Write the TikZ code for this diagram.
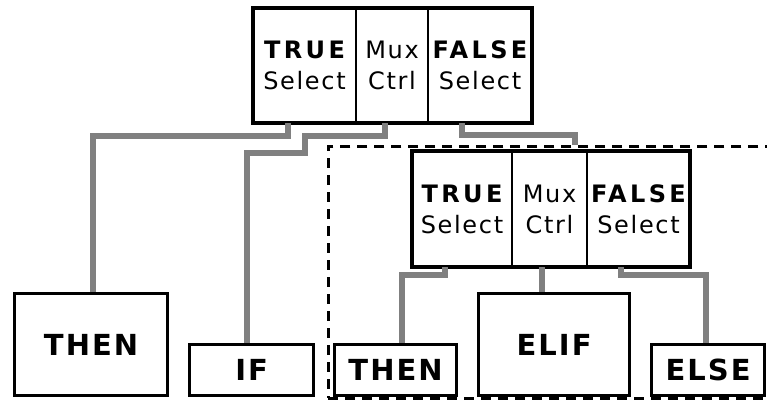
\documentclass[tikz,border=0pt]{standalone}
\usepackage{fontspec}
\setsansfont{DejaVu Sans}[LetterSpace=7]
\usetikzlibrary{positioning}

% bold heading word inside a mux cell
\newcommand\hd[1]{{\bfseries\addfontfeature{LetterSpace=14}#1}}

\tikzset{
  cell/.style={draw, line width=2pt, inner sep=0pt, outer sep=0pt, align=center,
    minimum height=115pt, font=\sffamily\fontsize{24}{31}\selectfont},
  blk/.style={draw, line width=3.2pt, inner sep=0pt, anchor=north west,
    font=\sffamily\bfseries\fontsize{29}{32}\selectfont},
  wire/.style={black!50, line width=6pt},
  subbox/.style={draw, line width=2.8pt, dash pattern=on 10pt off 7pt, anchor=north west}
}

\begin{document}
\begin{tikzpicture}[x=1pt, y=-1pt]
        \clip (0,0) rectangle (767,401);

        % outer multiplexer
        \node[cell, anchor=north west, minimum width=103pt] (tT) at (253,8) {\hd{TRUE}\\Select};
        \node[cell, minimum width=72pt, right=0pt of tT] (tM) {Mux\\Ctrl};
        \node[cell, minimum width=104pt, right=0pt of tM] (tF) {\hd{FALSE}\\Select};
        \draw[line width=3.2pt] (tT.north west) rectangle (tF.south east);

        % dashed frame round the nested part
        \node[subbox, minimum width=480pt, minimum height=252pt] (sub) at (327,145) {};

        % nested multiplexer
        \node[cell, anchor=north west, minimum width=100pt, minimum height=116pt] (iT) at (412,151) {\hd{TRUE}\\Select};
        \node[cell, minimum width=75pt, minimum height=116pt, right=0pt of iT] (iM) {Mux\\Ctrl};
        \node[cell, minimum width=103pt, minimum height=116pt, right=0pt of iM] (iF) {\hd{FALSE}\\Select};
        \draw[line width=3.2pt] (iT.north west) rectangle (iF.south east);

        % leaf blocks
        \node[blk, minimum width=153pt, minimum height=102pt] (then1) at (13,292) {THEN};
        \node[blk, minimum width=124pt, minimum height=51pt] (iff) at (188,343) {IF};
        \node[blk, minimum width=122pt, minimum height=51pt] (then2) at (333,343) {THEN};
        \node[blk, minimum width=151pt, minimum height=102pt] (elif) at (477,292) {ELIF};
        \node[blk, minimum width=113pt, minimum height=51pt] (else) at (650,343) {ELSE};

        % wiring of the outer mux
        \coordinate (fin) at (575,145);
        \draw[wire] ([xshift=-17pt]tT.south) -- ++(0,13) -| ([xshift=2pt]then1.north);
        \draw[wire] ([xshift=-7pt]tM.south) -- ++(0,13) -- ++(-80,0) -- ++(0,17) -| ([xshift=-5pt]iff.north);
        \draw[wire] ([xshift=-18pt]tF.south) -- ++(0,12) -| (fin);

        % wiring of the nested mux
        \draw[wire] ([xshift=-17pt]iT.south) -- ++(0,8) -| ([xshift=6pt]then2.north);
        \draw[wire] ([xshift=-8pt]iM.south) -- ([xshift=-8pt]iM.south |- elif.north);
        \draw[wire] ([xshift=-18pt]iF.south) -- ++(0,8) -| ([xshift=-2pt]else.north);
    \end{tikzpicture}
\end{document}
